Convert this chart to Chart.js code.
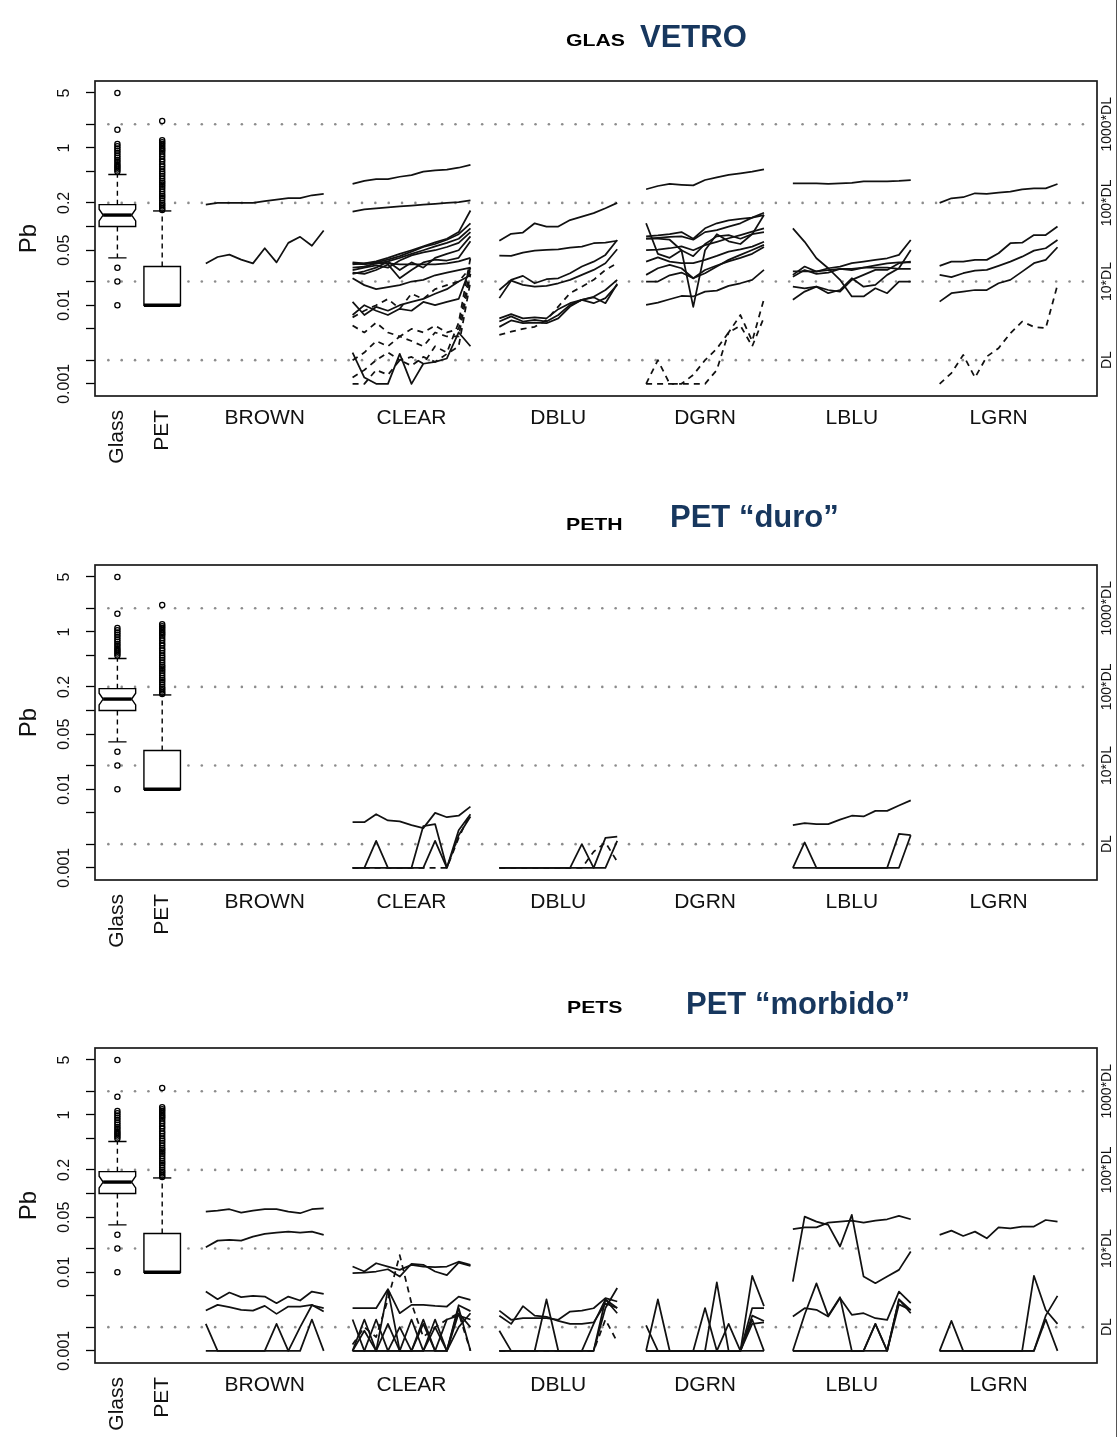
<!DOCTYPE html>
<html><head><meta charset="utf-8">
<script src="https://cdn.jsdelivr.net/npm/chart.js@4.4.0/dist/chart.umd.min.js"></script>
<style>
body{margin:0;background:#fff;width:1119px;height:1437px;position:relative;overflow:hidden;font-family:"Liberation Sans",Arial,sans-serif}
.panel{position:absolute;left:0;width:1119px;height:483px}
.panel canvas{display:block}
.code{position:absolute;font-weight:bold;font-size:17px;color:#000;line-height:1;white-space:nowrap;transform:scaleX(1.25);transform-origin:left top}
.name{position:absolute;font-weight:bold;font-size:31px;color:#17375e;line-height:1;white-space:nowrap}
.edge{position:absolute;left:1116px;top:0;width:1px;height:1437px;background:#555}
</style></head><body>
<div class="panel" style="top:0"><canvas id="c0" width="1119" height="483"></canvas></div>
<div class="panel" style="top:484px"><canvas id="c1" width="1119" height="483"></canvas></div>
<div class="panel" style="top:967px"><canvas id="c2" width="1119" height="483"></canvas></div>
<div class="code" style="left:566px;top:32px">GLAS</div>
<div class="name" style="left:640px;top:21px">VETRO</div>
<div class="code" style="left:566px;top:516px">PETH</div>
<div class="name" style="left:670px;top:501px">PET “duro”</div>
<div class="code" style="left:567px;top:999px">PETS</div>
<div class="name" style="left:686px;top:988px">PET “morbido”</div>
<div class="edge"></div>
<script>
// ---------- labels / ticks ----------
const categories = ['BROWN','CLEAR','DBLU','DGRN','LBLU','LGRN'];
const boxLabels = ['Glass','PET'];
const leftTicks = [0.001,0.002,0.005,0.01,0.02,0.05,0.1,0.2,0.5,1,2,5];
const leftTickLabels = ['0.001','','','0.01','','0.05','','0.2','','1','','5'];
const dlLevels = [0.002,0.02,0.2,2];
const dlLabels = ['DL','10*DL','100*DL','1000*DL'];
const yAxisTitle = 'Pb';

// ---------- boxplot data (same in every panel) ----------
// [lower whisker, Q1, median, Q3, upper whisker]
const glassBox = [0.040,0.100,0.140,0.190,0.46];
const glassNotch = [0.118,0.166];
const petBox = [0.010,0.010,0.010,0.031,0.158];
const glassOutliers = [5.0,1.7,1.12,1.05,0.98,0.92,0.86,0.8,0.75,0.7,0.66,0.62,0.59,0.56,0.53,0.5,0.03,0.02,0.01];
const petOutliers = [2.2,1.25,1.18,1.12,1.06,1.0,0.95,0.9,0.84,0.78,0.72,0.67,0.62,0.58,0.54,0.5,0.47,0.44,0.41,0.38,0.36,0.34,0.32,0.3,0.28,0.26,0.245,0.23,0.215,0.2,0.19,0.18,0.17,0.162];

// ---------- GLAS panel series (11 points each) ----------
const glasBROWN = [
 [0.19,0.2,0.2,0.2,0.2,0.21,0.22,0.23,0.23,0.25,0.26],
 [0.034,0.041,0.044,0.038,0.034,0.053,0.035,0.062,0.074,0.057,0.089]];
const glasCLEAR = [
 [0.35,0.38,0.40,0.40,0.43,0.45,0.50,0.52,0.53,0.56,0.61],
 [0.155,0.165,0.17,0.175,0.18,0.185,0.19,0.195,0.2,0.205,0.215],
 [0.033,0.034,0.036,0.04,0.045,0.05,0.056,0.063,0.07,0.085,0.16],
 [0.034,0.033,0.035,0.038,0.042,0.048,0.055,0.06,0.068,0.08,0.11],
 [0.03,0.031,0.034,0.036,0.04,0.045,0.05,0.056,0.062,0.07,0.095],
 [0.028,0.03,0.032,0.03,0.037,0.043,0.047,0.05,0.055,0.062,0.085],
 [0.025,0.027,0.03,0.036,0.028,0.035,0.03,0.04,0.045,0.05,0.075],
 [0.026,0.025,0.028,0.033,0.022,0.028,0.035,0.038,0.037,0.04,0.065],
 [0.035,0.034,0.034,0.034,0.033,0.033,0.033,0.033,0.034,0.036,0.04],
 [0.022,0.018,0.016,0.017,0.018,0.02,0.021,0.024,0.026,0.028,0.03],
 [0.011,0.0075,0.0095,0.0085,0.01,0.011,0.012,0.014,0.016,0.02,0.024],
 [0.0075,0.01,0.0085,0.0075,0.009,0.0085,0.011,0.01,0.011,0.012,0.03],
 [0.0025,0.0012,0.001,0.001,0.0024,0.001,0.0018,0.0019,0.0021,0.0045,0.003]];
const glasCLEARdashed = [
 [0.0055,0.0045,0.006,0.0045,0.004,0.005,0.0045,0.0055,0.0045,0.005,0.03],
 [0.002,0.0025,0.0035,0.003,0.004,0.0035,0.003,0.0045,0.004,0.004,0.025],
 [0.0012,0.0015,0.002,0.0025,0.002,0.0022,0.0018,0.003,0.0025,0.006,0.04],
 [0.001,0.001,0.0015,0.0013,0.002,0.0017,0.0022,0.0019,0.0024,0.003,0.02],
 [0.007,0.0085,0.01,0.012,0.009,0.014,0.012,0.016,0.018,0.02,0.03]];
const glasDBLU = [
 [0.066,0.081,0.084,0.11,0.10,0.10,0.121,0.134,0.148,0.171,0.2],
 [0.0427,0.0423,0.0466,0.0494,0.0504,0.0514,0.054,0.0556,0.0614,0.0624,0.066],
 [0.0156,0.021,0.0236,0.019,0.0214,0.022,0.0255,0.031,0.0358,0.0436,0.0676],
 [0.0123,0.0205,0.0181,0.0172,0.0176,0.019,0.021,0.0243,0.0281,0.0342,0.0514],
 [0.0068,0.0077,0.0068,0.007,0.0068,0.0089,0.0106,0.0117,0.0106,0.0123,0.0181],
 [0.0062,0.0072,0.0062,0.0065,0.0062,0.0075,0.0101,0.0117,0.0126,0.0106,0.0187],
 [0.0053,0.0064,0.0059,0.006,0.0059,0.0068,0.0096,0.0117,0.0128,0.0156,0.021]];
const glasDBLUdashed = [
 [0.0042,0.0046,0.005,0.0053,0.0065,0.0096,0.0142,0.0172,0.021,0.0281,0.0342]];
const glasDGRN = [
 [0.298,0.328,0.348,0.34,0.334,0.391,0.423,0.453,0.475,0.499,0.535],
 [0.075,0.077,0.08,0.085,0.07,0.095,0.11,0.12,0.125,0.13,0.15],
 [0.07,0.072,0.074,0.075,0.068,0.085,0.09,0.1,0.11,0.13,0.14],
 [0.11,0.045,0.04,0.05,0.042,0.06,0.075,0.078,0.07,0.08,0.14],
 [0.07,0.07,0.068,0.05,0.0095,0.05,0.08,0.065,0.06,0.08,0.085],
 [0.05,0.051,0.053,0.056,0.05,0.058,0.064,0.071,0.078,0.086,0.095],
 [0.0358,0.0406,0.0358,0.0342,0.0342,0.0377,0.0423,0.048,0.0514,0.0556,0.064],
 [0.0243,0.0295,0.0325,0.0295,0.022,0.0255,0.031,0.0377,0.0436,0.0504,0.0584],
 [0.02,0.02,0.024,0.026,0.022,0.028,0.032,0.036,0.04,0.045,0.055],
 [0.0101,0.0108,0.0119,0.0131,0.0129,0.0149,0.0153,0.0176,0.019,0.021,0.0281]];
const glasDGRNdashed = [
 [0.001,0.002,0.001,0.001,0.001,0.001,0.0015,0.0045,0.0075,0.0035,0.012],
 [0.001,0.001,0.001,0.001,0.0013,0.002,0.0028,0.0045,0.0055,0.003,0.007]];
const glasLBLU = [
 [0.355,0.355,0.355,0.35,0.355,0.36,0.375,0.375,0.375,0.38,0.39],
 [0.095,0.064,0.0395,0.0295,0.021,0.0129,0.0129,0.0164,0.0142,0.02,0.02],
 [0.027,0.027,0.027,0.028,0.029,0.029,0.03,0.03,0.03,0.029,0.029],
 [0.0243,0.031,0.0267,0.0295,0.031,0.0342,0.0358,0.0377,0.0395,0.0436,0.0676],
 [0.023,0.028,0.025,0.026,0.029,0.028,0.030,0.032,0.034,0.035,0.035],
 [0.0172,0.0164,0.0172,0.0142,0.0156,0.022,0.0172,0.0181,0.0243,0.0295,0.0504],
 [0.0117,0.0149,0.0172,0.0156,0.0149,0.021,0.0243,0.0281,0.0281,0.0342,0.0358]];
const glasLGRN = [
 [0.2,0.229,0.236,0.265,0.26,0.27,0.278,0.298,0.306,0.306,0.348],
 [0.0316,0.0358,0.0358,0.0377,0.0377,0.0458,0.0614,0.0624,0.078,0.078,0.1],
 [0.0243,0.0227,0.0255,0.0275,0.0281,0.0316,0.0358,0.0414,0.0494,0.053,0.0676],
 [0.0111,0.0142,0.0149,0.0156,0.0156,0.019,0.021,0.0267,0.0342,0.0377,0.0546]];
const glasLGRNdashed = [
 [0.001,0.00137,0.00233,0.0012,0.00222,0.00284,0.0044,0.0062,0.0053,0.0051,0.0181]];

// ---------- PETH panel ----------
const pethCLEAR = [
 [0.0038,0.0038,0.0048,0.004,0.0039,0.0035,0.0032,0.005,0.0044,0.0046,0.006],
 [0.001,0.001,0.001,0.001,0.001,0.001,0.0034,0.0036,0.001,0.003,0.0048],
 [0.001,0.001,0.0022,0.001,0.001,0.001,0.001,0.0022,0.001,0.0026,0.0045]];
const pethCLEARdashed = [
 [0.001,0.001,0.001,0.001,0.001,0.001,0.001,0.001,0.001,0.0024,0.005]];
const pethDBLU = [
 [0.001,0.001,0.001,0.001,0.001,0.001,0.001,0.002,0.001,0.0024,0.0025],
 [0.001,0.001,0.001,0.001,0.001,0.001,0.001,0.001,0.001,0.001,0.0022]];
const pethDBLUdashed = [
 [0.001,0.001,0.001,0.001,0.001,0.001,0.001,0.001,0.0016,0.0021,0.0012]];
const pethLBLU = [
 [0.0035,0.0037,0.0036,0.0036,0.0041,0.0046,0.0045,0.0053,0.0053,0.0062,0.0072],
 [0.001,0.0021,0.001,0.001,0.001,0.001,0.001,0.001,0.001,0.0027,0.0026],
 [0.001,0.001,0.001,0.001,0.001,0.001,0.001,0.001,0.001,0.001,0.0026]];

// ---------- PETS panel ----------
const petsBROWN = [
 [0.0589,0.0607,0.0632,0.0572,0.0607,0.0632,0.0632,0.0589,0.0562,0.0632,0.065],
 [0.0208,0.0252,0.0257,0.0252,0.0283,0.0307,0.0319,0.0328,0.0319,0.0328,0.0298],
 [0.00567,0.00454,0.00551,0.00481,0.005,0.0049,0.00404,0.0049,0.00436,0.00567,0.0053],
 [0.00325,0.00384,0.00359,0.00332,0.00325,0.00373,0.00295,0.00366,0.00366,0.00384,0.00316],
 [0.0022,0.001,0.001,0.001,0.001,0.001,0.0022,0.001,0.001,0.0025,0.001],
 [0.001,0.001,0.001,0.001,0.001,0.001,0.001,0.001,0.002,0.0038,0.0035]];
const petsCLEAR = [
 [0.0118,0.0102,0.013,0.0118,0.0107,0.0124,0.0118,0.0116,0.0118,0.0136,0.0124],
 [0.0097,0.0099,0.0102,0.0109,0.0088,0.0128,0.0124,0.0102,0.0092,0.0132,0.012],
 [0.00348,0.00348,0.00348,0.00608,0.00301,0.00384,0.00384,0.00373,0.00366,0.0049,0.00445],
 [0.001,0.0025,0.001,0.001,0.001,0.001,0.0025,0.001,0.001,0.0035,0.001],
 [0.001,0.001,0.0025,0.001,0.001,0.0025,0.001,0.0025,0.001,0.003,0.002],
 [0.0025,0.001,0.001,0.0022,0.001,0.001,0.0022,0.001,0.0025,0.0028,0.0025],
 [0.001,0.0018,0.001,0.001,0.002,0.001,0.001,0.002,0.001,0.002,0.003],
 [0.001,0.001,0.001,0.006,0.001,0.001,0.001,0.001,0.001,0.0038,0.0032]];
const petsCLEARdashed = [
 [0.0012,0.002,0.0015,0.0045,0.0165,0.004,0.0015,0.002,0.0025,0.003,0.001]];
const petsDBLU = [
 [0.00325,0.00248,0.0026,0.0026,0.0026,0.00248,0.00316,0.00325,0.00348,0.00468,0.00424],
 [0.0028,0.0022,0.0037,0.0028,0.0027,0.0024,0.0022,0.0022,0.0023,0.004,0.0035],
 [0.001,0.001,0.001,0.001,0.0045,0.001,0.001,0.001,0.001,0.0045,0.0035],
 [0.0018,0.001,0.001,0.001,0.001,0.001,0.001,0.001,0.001,0.0035,0.0063],
 [0.001,0.001,0.001,0.001,0.001,0.001,0.001,0.001,0.0022,0.0045,0.003]];
const petsDBLUdashed = [
 [0.001,0.001,0.001,0.001,0.001,0.001,0.001,0.001,0.001,0.0025,0.0013]];
const petsDGRN = [
 [0.0021,0.001,0.001,0.001,0.001,0.001,0.001,0.001,0.001,0.001,0.001],
 [0.001,0.0045,0.001,0.001,0.001,0.0035,0.001,0.001,0.001,0.0025,0.001],
 [0.001,0.001,0.001,0.001,0.001,0.001,0.0074,0.001,0.001,0.0035,0.0035],
 [0.001,0.001,0.001,0.001,0.001,0.001,0.001,0.0022,0.001,0.009,0.0037],
 [0.001,0.001,0.001,0.001,0.001,0.001,0.001,0.001,0.001,0.0028,0.0024],
 [0.001,0.001,0.001,0.001,0.001,0.001,0.001,0.001,0.001,0.0022,0.0023]];
const petsLBLU = [
 [0.0352,0.0372,0.0372,0.0427,0.044,0.0453,0.0427,0.0453,0.0471,0.0519,0.0471],
 [0.0076,0.0509,0.044,0.0399,0.0212,0.0535,0.0088,0.00724,0.0088,0.0107,0.0183],
 [0.00273,0.00348,0.00332,0.00273,0.00468,0.00287,0.00301,0.0026,0.00248,0.00567,0.00404],
 [0.001,0.0029,0.0072,0.0028,0.0048,0.001,0.001,0.0022,0.001,0.0045,0.0033],
 [0.001,0.001,0.001,0.001,0.001,0.001,0.001,0.001,0.001,0.0039,0.0033],
 [0.001,0.001,0.001,0.001,0.001,0.001,0.001,0.0022,0.001,0.0045,0.003]];
const petsLGRN = [
 [0.0298,0.0338,0.0289,0.0328,0.027,0.0372,0.0362,0.038,0.038,0.0461,0.044],
 [0.001,0.0024,0.001,0.001,0.001,0.001,0.001,0.001,0.009,0.0033,0.0022],
 [0.001,0.001,0.001,0.001,0.001,0.001,0.001,0.001,0.001,0.0028,0.005],
 [0.001,0.001,0.001,0.001,0.001,0.001,0.001,0.001,0.001,0.0025,0.001]];

// ---------- layout constants (x in "time-point" units) ----------
const X_MIN = 0, X_MAX = 85;
const BOX_X = [1.9, 5.7];
const BOX_W = 3.1;
const GROUP_X0 = 9.4, GROUP_STEP = 12.45, GROUP_LEN = 10;
const Y_MIN = 0.0007, Y_MAX = 7.1;
const FONT = '"Liberation Sans", Arial, Helvetica, sans-serif';

function lineDataset(vals, g, dashed){
  return {
    data: vals.map((v,j)=>({x: GROUP_X0 + g*GROUP_STEP + j, y: v})),
    borderColor:'#111', borderWidth:1.75, pointRadius:0, fill:false, tension:0,
    borderDash: dashed ? [6,5] : [], borderJoinStyle:'round'
  };
}
function outlierDataset(vals, xPos){
  return {
    data: vals.map(v=>({x:xPos, y:v})), showLine:false,
    pointRadius:2.6, pointBorderWidth:1.3, pointBorderColor:'#000',
    pointBackgroundColor:'rgba(255,255,255,0)', borderColor:'#000'
  };
}

function drawBox(ctx, xs, ys, stats, xPos, notch){
  const xc = xs.getPixelForValue(xPos);
  const hw = xs.getPixelForValue(xPos + BOX_W/2) - xc;
  const [lo,q1,med,q3,hi] = stats.map(v=>ys.getPixelForValue(v));
  ctx.save();
  ctx.strokeStyle='#000'; ctx.lineWidth=1.4;
  ctx.setLineDash([5,4]);
  ctx.beginPath(); ctx.moveTo(xc,q3); ctx.lineTo(xc,hi); ctx.moveTo(xc,q1); ctx.lineTo(xc,lo); ctx.stroke();
  ctx.setLineDash([]);
  ctx.beginPath(); ctx.moveTo(xc-hw/2,hi); ctx.lineTo(xc+hw/2,hi);
  if (lo !== q1){ ctx.moveTo(xc-hw/2,lo); ctx.lineTo(xc+hw/2,lo); }
  ctx.stroke();
  ctx.beginPath();
  let ind = 0;
  if (notch){
    const nLo = ys.getPixelForValue(notch[0]), nHi = ys.getPixelForValue(notch[1]);
    ind = hw*0.22;
    ctx.moveTo(xc-hw,q1); ctx.lineTo(xc-hw,nLo); ctx.lineTo(xc-hw+ind,med); ctx.lineTo(xc-hw,nHi); ctx.lineTo(xc-hw,q3);
    ctx.lineTo(xc+hw,q3); ctx.lineTo(xc+hw,nHi); ctx.lineTo(xc+hw-ind,med); ctx.lineTo(xc+hw,nLo); ctx.lineTo(xc+hw,q1);
    ctx.closePath();
  } else {
    ctx.rect(xc-hw,q3,2*hw,q1-q3);
  }
  ctx.fillStyle='#fff'; ctx.fill(); ctx.stroke();
  ctx.lineWidth=3.4;
  ctx.beginPath(); ctx.moveTo(xc-hw+ind,med); ctx.lineTo(xc+hw-ind,med); ctx.stroke();
  ctx.restore();
}

const decor = {
  id:'decor',
  beforeDatasetsDraw(chart){
    const {ctx, chartArea:a, scales:{y}} = chart;
    ctx.save(); ctx.fillStyle='#8c8c8c';
    dlLevels.forEach(v=>{
      const py = y.getPixelForValue(v);
      for (let px = a.left + 13.35; px < a.right - 2; px += 13.35){
        ctx.beginPath(); ctx.arc(px, py, 1.3, 0, Math.PI*2); ctx.fill();
      }
    });
    ctx.restore();
  },
  beforeDraw(chart){},
  afterDatasetsDraw(chart){
    const {ctx, chartArea:a, scales:{x,y}} = chart;
    ctx.save(); ctx.strokeStyle='#1a1a1a'; ctx.lineWidth=1.7;
    ctx.strokeRect(a.left, a.top, a.right-a.left, a.bottom-a.top);
    ctx.restore();
  },
  afterDraw(chart){
    const {ctx, chartArea:a, scales:{x,y}} = chart;
    ctx.save(); ctx.fillStyle='#111';
    ctx.font = '16px '+FONT; ctx.textAlign='center'; ctx.textBaseline='middle';
    leftTicks.forEach((v,i)=>{
      if(!leftTickLabels[i]) return;
      ctx.save(); ctx.translate(65, y.getPixelForValue(v)); ctx.rotate(-Math.PI/2);
      ctx.fillText(leftTickLabels[i],0,0); ctx.restore();
    });
    ctx.font = '24px '+FONT;
    ctx.save(); ctx.translate(29,(a.top+a.bottom)/2); ctx.rotate(-Math.PI/2); ctx.fillText(yAxisTitle,0,0); ctx.restore();
    ctx.font = '14px '+FONT;
    dlLevels.forEach((v,i)=>{
      ctx.save(); ctx.translate(1107, y.getPixelForValue(v)); ctx.rotate(-Math.PI/2);
      ctx.fillText(dlLabels[i],0,0); ctx.restore();
    });
    ctx.font = '21px '+FONT; ctx.textBaseline='alphabetic';
    categories.forEach((c,g)=>{
      ctx.fillText(c, x.getPixelForValue(GROUP_X0 + g*GROUP_STEP + GROUP_LEN/2), a.bottom+28);
    });
    ctx.textAlign='right'; ctx.textBaseline='middle';
    boxLabels.forEach((c,i)=>{
      ctx.save(); ctx.translate(x.getPixelForValue(BOX_X[i]), a.bottom+14); ctx.rotate(-Math.PI/2);
      ctx.fillText(c,0,0); ctx.restore();
    });
    ctx.restore();
  }
};

// boxes are drawn by a plugin that runs before the dataset layer so outlier points stay on top
const boxes = {
  id:'boxes',
  beforeDatasetsDraw(chart){
    const {ctx, scales:{x,y}} = chart;
    drawBox(ctx, x, y, glassBox, BOX_X[0], glassNotch);
    drawBox(ctx, x, y, petBox, BOX_X[1], null);
  }
};

function makeChart(id, solidGroups, dashedGroups){
  const datasets = [];
  solidGroups.forEach((list,g)=>{ if(list) list.forEach(v=>datasets.push(lineDataset(v,g,false))); });
  dashedGroups.forEach((list,g)=>{ if(list) list.forEach(v=>datasets.push(lineDataset(v,g,true))); });
  datasets.push(outlierDataset(glassOutliers, BOX_X[0]));
  datasets.push(outlierDataset(petOutliers, BOX_X[1]));
  new Chart(document.getElementById(id), {
    type:'line',
    data:{datasets},
    options:{
      responsive:false, animation:false, events:[],
      layout:{padding:{top:81,right:22,bottom:0,left:0}},
      plugins:{legend:{display:false}, tooltip:{enabled:false}, title:{display:false}},
      scales:{
        x:{type:'linear', min:X_MIN, max:X_MAX, ticks:{display:false}, grid:{display:false}, border:{display:false},
           afterFit(s){ s.height = 87; }},
        y:{type:'logarithmic', position:'left', min:Y_MIN, max:Y_MAX, bounds:'data',
           afterBuildTicks(s){ s.ticks = leftTicks.map(v=>({value:v})); },
           ticks:{display:false},
           grid:{display:true, drawOnChartArea:false, drawTicks:true, tickLength:9, tickColor:'#000', tickWidth:1.3},
           border:{display:false},
           afterFit(s){ s.width = 95; }}
      }
    },
    plugins:[decor, boxes]
  });
}

makeChart('c0',
  [glasBROWN, glasCLEAR, glasDBLU, glasDGRN, glasLBLU, glasLGRN],
  [null, glasCLEARdashed, glasDBLUdashed, glasDGRNdashed, null, glasLGRNdashed]);
makeChart('c1',
  [null, pethCLEAR, pethDBLU, null, pethLBLU, null],
  [null, pethCLEARdashed, pethDBLUdashed, null, null, null]);
makeChart('c2',
  [petsBROWN, petsCLEAR, petsDBLU, petsDGRN, petsLBLU, petsLGRN],
  [null, petsCLEARdashed, petsDBLUdashed, null, null, null]);
</script>
</body></html>
